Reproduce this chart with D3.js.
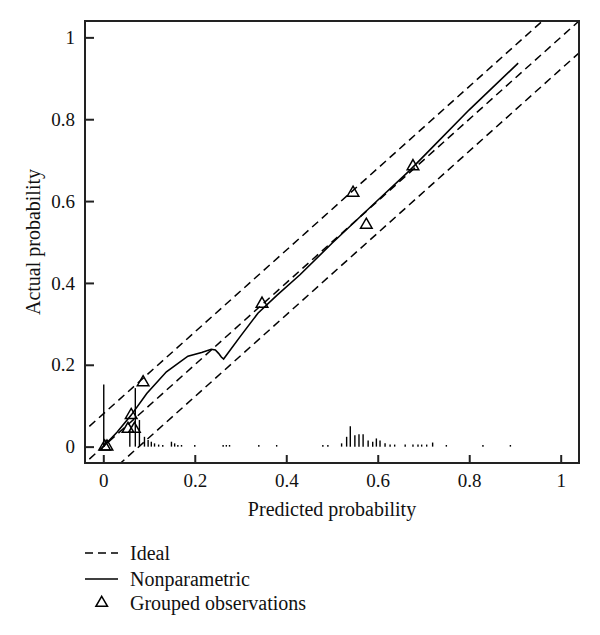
<!DOCTYPE html>
<html>
<head>
<meta charset="utf-8">
<script src="https://cdn.jsdelivr.net/npm/d3@7"></script>
<style>
  body { margin: 0; background: #fff; }
  text { font-family: "Liberation Serif", "DejaVu Serif", serif; fill: #111; }
</style>
</head>
<body>
<svg id="chart" width="600" height="635"></svg>
<script>
// tick values on both axes
const ticks = [0, 0.2, 0.4, 0.6, 0.8, 1];
const tickLabels = ["0", "0.2", "0.4", "0.6", "0.8", "1"];

// ideal line and the two dashed bands (intercepts)
const idealOffsets = [0.08, 0, -0.078];

// nonparametric calibration curve (predicted, actual)
const curveX = [0, 0.03, 0.061, 0.095, 0.138, 0.185, 0.215, 0.236, 0.245, 0.252, 0.258, 0.263, 0.3, 0.338, 0.38, 0.43, 0.5, 0.597, 0.67, 0.714, 0.8, 0.907];
const curveY = [0, 0.035, 0.077, 0.13, 0.183, 0.221, 0.23, 0.238, 0.236, 0.228, 0.219, 0.214, 0.27, 0.326, 0.37, 0.42, 0.497, 0.599, 0.675, 0.725, 0.823, 0.937];

// grouped observations
const groupX = [0.003, 0.008, 0.054, 0.061, 0.068, 0.087, 0.347, 0.546, 0.575, 0.677];
const groupY = [0.0, 0.0, 0.043, 0.077, 0.043, 0.157, 0.349, 0.62, 0.542, 0.685];

// spike histogram of predicted probabilities along y = 0
const spikeX = [0.001, 0.058, 0.07, 0.079, 0.09, 0.098, 0.105, 0.112, 0.121, 0.13, 0.149, 0.156, 0.163, 0.171, 0.2,
  0.262, 0.269, 0.276, 0.34, 0.379, 0.48, 0.491, 0.521, 0.532, 0.54, 0.55, 0.559, 0.568, 0.579, 0.589, 0.597, 0.605,
  0.616, 0.627, 0.637, 0.66, 0.677, 0.688, 0.696, 0.707, 0.72, 0.75, 0.83, 0.89];
const spikeH = [0.152, 0.04, 0.143, 0.065, 0.024, 0.016, 0.012, 0.008, 0.005, 0.004, 0.012, 0.008, 0.004, 0.004, 0.004,
  0.004, 0.004, 0.004, 0.004, 0.004, 0.004, 0.004, 0.008, 0.024, 0.05, 0.028, 0.03, 0.03, 0.015, 0.012, 0.02, 0.015,
  0.008, 0.005, 0.005, 0.005, 0.005, 0.005, 0.005, 0.005, 0.01, 0.004, 0.004, 0.004];

const legendLabels = ["Ideal", "Nonparametric", "Grouped observations"];

const svg = d3.select("#chart");
const pl = 85, pt = 21, pr = 579, pb = 463;

const x = d3.scaleLinear().domain([-0.04, 1.04]).range([pl, pr]);
const y = d3.scaleLinear().domain([-0.04, 1.04]).range([pb, pt]);

svg.append("defs").append("clipPath").attr("id", "plot")
  .append("rect").attr("x", pl).attr("y", pt)
  .attr("width", pr - pl).attr("height", pb - pt);

const plot = svg.append("g").attr("clip-path", "url(#plot)");

// dashed ideal lines
plot.selectAll(".ideal")
  .data(idealOffsets)
  .enter().append("line")
  .attr("class", "ideal")
  .attr("x1", x(-0.2)).attr("y1", d => y(-0.2 + d))
  .attr("x2", x(1.2)).attr("y2", d => y(1.2 + d))
  .attr("stroke", "#000").attr("stroke-width", 1.5)
  .attr("stroke-dasharray", "8,5");

// spikes
plot.selectAll(".spike")
  .data(spikeX.map((v, i) => ({ x: v, h: spikeH[i] })))
  .enter().append("line")
  .attr("class", "spike")
  .attr("x1", d => x(d.x)).attr("x2", d => x(d.x))
  .attr("y1", y(0)).attr("y2", d => y(d.h))
  .attr("stroke", "#000").attr("stroke-width", 1.4);

// nonparametric curve
const line = d3.line().x(d => x(d[0])).y(d => y(d[1]));
plot.append("path")
  .datum(curveX.map((v, i) => [v, curveY[i]]))
  .attr("d", line)
  .attr("fill", "none").attr("stroke", "#000").attr("stroke-width", 1.6);

// grouped observations
const tri = d3.symbol().type(d3.symbolTriangle).size(58);
plot.selectAll(".group")
  .data(groupX.map((v, i) => [v, groupY[i]]))
  .enter().append("path")
  .attr("class", "group")
  .attr("transform", d => `translate(${x(d[0])},${y(d[1])})`)
  .attr("d", tri)
  .attr("fill", "none").attr("stroke", "#000").attr("stroke-width", 1.5);

// frame
svg.append("rect")
  .attr("x", pl).attr("y", pt)
  .attr("width", pr - pl).attr("height", pb - pt)
  .attr("fill", "none").attr("stroke", "#222").attr("stroke-width", 2);

// axes with inward ticks
const xAxis = svg.append("g").attr("transform", `translate(0,${pb})`)
  .call(d3.axisTop(x).tickValues(ticks).tickFormat((d, i) => tickLabels[i]).tickSize(8));
const yAxis = svg.append("g").attr("transform", `translate(${pl},0)`)
  .call(d3.axisRight(y).tickValues(ticks).tickFormat((d, i) => tickLabels[i]).tickSize(9));

[xAxis, yAxis].forEach(a => {
  a.select(".domain").remove();
  a.selectAll(".tick line").attr("stroke", "#222").attr("stroke-width", 2);
  a.selectAll(".tick text").style("font-family", '"Liberation Serif", serif')
    .style("font-size", "19px").attr("fill", "#111");
});
xAxis.selectAll(".tick text").attr("y", 24).attr("dy", 0);
yAxis.selectAll(".tick text").attr("x", -10).attr("text-anchor", "end");

// axis titles
svg.append("text")
  .attr("x", (pl + pr) / 2).attr("y", 516)
  .attr("text-anchor", "middle").style("font-size", "20px")
  .text("Predicted probability");
svg.append("text")
  .attr("transform", `translate(40,${(pt + pb) / 2}) rotate(-90)`)
  .attr("text-anchor", "middle").style("font-size", "20px")
  .text("Actual probability");

// legend
const lg = svg.append("g");
const rows = [553, 579, 603];
lg.append("line").attr("x1", 85).attr("x2", 118).attr("y1", rows[0]).attr("y2", rows[0])
  .attr("stroke", "#000").attr("stroke-width", 1.5).attr("stroke-dasharray", "8,5");
lg.append("line").attr("x1", 85).attr("x2", 118).attr("y1", rows[1]).attr("y2", rows[1])
  .attr("stroke", "#000").attr("stroke-width", 1.6);
lg.append("path").attr("transform", `translate(101.7,${rows[2]})`).attr("d", tri)
  .attr("fill", "none").attr("stroke", "#000").attr("stroke-width", 1.5);
lg.selectAll(".lab")
  .data(legendLabels)
  .enter().append("text")
  .attr("class", "lab")
  .attr("x", 130).attr("y", (d, i) => rows[i] + 7)
  .style("font-size", "20px")
  .text(d => d);
</script>
</body>
</html>
